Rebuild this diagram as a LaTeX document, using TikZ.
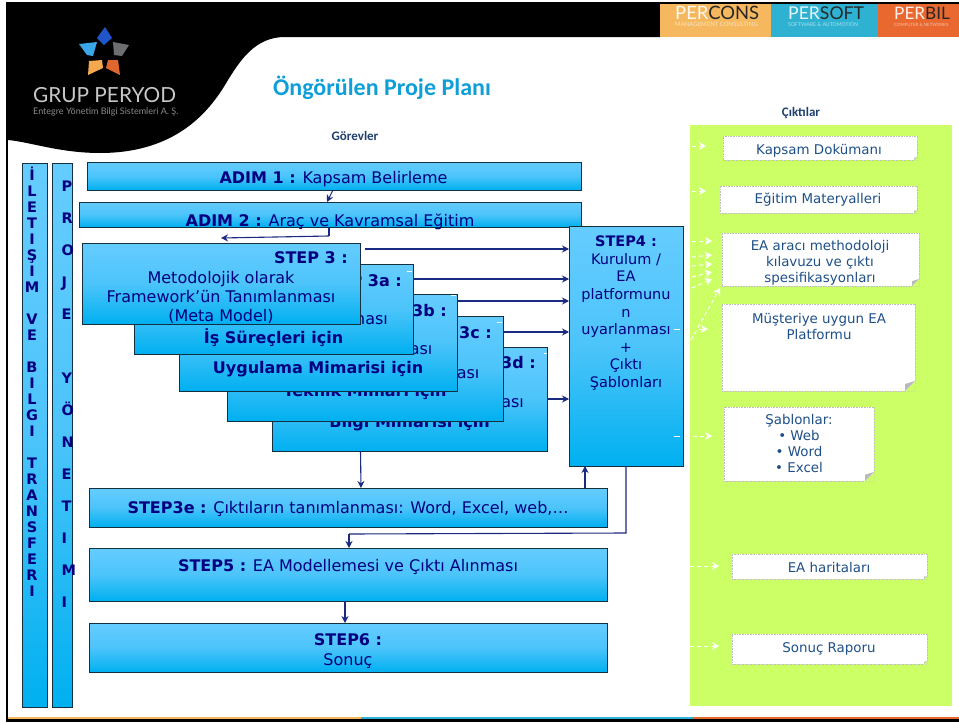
\documentclass[tikz,border=0pt]{standalone}
\usepackage{fontspec}
\setmainfont{DejaVu Sans}
\newfontfamily\calib{Carlito}
\newfontfamily\latof{Lato}
\usetikzlibrary{arrows.meta}
\definecolor{btop}{HTML}{66CCFF}
\definecolor{bmid}{HTML}{4CC4FA}
\definecolor{bbot}{HTML}{00B0F0}
\definecolor{navy}{HTML}{000080}
\definecolor{edgec}{HTML}{12303F}
\definecolor{linkc}{HTML}{1A2A80}
\definecolor{outtxt}{HTML}{1F5088}
\definecolor{lime}{HTML}{CCFF66}
\definecolor{ban1}{HTML}{F5B85F}
\definecolor{ban2}{HTML}{2FB2D2}
\definecolor{ban3}{HTML}{E8682F}
\definecolor{starA}{HTML}{1F55C8}
\definecolor{starB}{HTML}{3AA8E8}
\definecolor{starC}{HTML}{6D6E70}
\definecolor{starD}{HTML}{F5A94F}
\definecolor{starE}{HTML}{E0662F}
\definecolor{titlec}{HTML}{0F9FD8}
\definecolor{headc}{HTML}{1F3F6F}
\tikzset{
  bluebox/.style={draw=edgec,line width=1pt,top color=btop,bottom color=bbot,middle color=bmid,inner sep=0pt,outer sep=0pt},
  whitebox/.style={draw=gray!50,densely dotted,line width=.6pt,fill=white,inner sep=0pt,outer sep=0pt},
  navytext/.style={anchor=base,text=navy,inner sep=0pt,font=\fontsize{16}{18}\selectfont},
  navybold/.style={navytext,font=\fontsize{16}{18}\selectfont\bfseries},
  navyright/.style={navybold,anchor=base east},
  stepfour/.style={anchor=base,text=navy,inner sep=0pt,font=\fontsize{14.5}{18}\selectfont},
  outtext/.style={anchor=base,text=outtxt,inner sep=0pt,font=\fontsize{13.4}{15}\selectfont},
  barletter/.style={anchor=base,text=navy,inner sep=0pt,font=\fontsize{14.5}{16}\selectfont\bfseries},
  link/.style={draw=linkc,line width=1.1pt,-{Stealth[length=7pt,width=7pt]}},
  whitelink/.style={draw=white,line width=1pt,dash pattern=on 4pt off 3pt,-{Stealth[length=7pt,width=8pt,fill=white]}},
  whitedash/.style={draw=white,line width=1pt},
}
\newcommand{\bluerect}[5]{%
  \pgfmathsetmacro\bw{#4-#2}\pgfmathsetmacro\bh{#5-#3}%
  \pgfmathsetmacro\cx{(#2+#4)/2}\pgfmathsetmacro\cy{(#3+#5)/2}%
  \node[bluebox,minimum width=\bw pt,minimum height=\bh pt] (#1) at (\cx,\cy) {};}
\newcommand{\outrect}[6]{%
  \pgfmathsetmacro\bw{#4-#2}\pgfmathsetmacro\bh{#5-#3}%
  \pgfmathsetmacro\cx{(#2+#4)/2}\pgfmathsetmacro\cy{(#3+#5)/2}%
  \node[whitebox,minimum width=\bw pt,minimum height=\bh pt] (#1) at (\cx,\cy) {};
  \fill[lime] (#4+.6,#5+.6) -- (#4+.6,#5-#6) -- (#4-#6,#5+.6) -- cycle;
  \fill[gray!55] (#4,#5-#6) -- (#4-#6,#5-.7*#6) -- (#4-#6,#5) -- cycle;}
\begin{document}
\begin{tikzpicture}[x=1pt,y=-1pt]
\useasboundingbox (0,0) rectangle (959,723);
\fill[white] (0,0) rectangle (959,723);
% header
\fill[black] (6,2) -- (660,2) -- (660,37) -- (285,37)
  .. controls (255,37) and (240,60) .. (225,85)
  .. controls (205,118) and (170,153) .. (100,153)
  .. controls (60,153) and (30,142) .. (8,140) -- (6,140) -- cycle;
\fill[ban1] (660,3) rectangle (771,37);
\fill[ban2] (771,3) rectangle (878,37);
\fill[ban3] (878,3) rectangle (959,37);
\fill[black] (660,2) rectangle (959,3.5);
% frame
\fill[black] (6,2) rectangle (8,722);
\fill[black] (6,719) rectangle (959,722);
\fill[ban1] (8,717) rectangle (361,719);
\fill[ban2] (361,717) rectangle (693,719);
\fill[ban3] (693,717) rectangle (959,719);
% logo
\fill[starA] (105,27) -- (112,38) -- (104,45) -- (97,38) -- cycle;
\fill[starB] (79,44) -- (97,42) -- (93,56) -- (87,55) -- cycle;
\fill[starC] (113,42) -- (129,45) -- (122,56) -- (114,55) -- cycle;
\fill[starD] (89,61) -- (102,60) -- (103,68) -- (88,75) -- cycle;
\fill[starE] (108,60) -- (118,60) -- (120,75) -- (106,68) -- cycle;
\node[anchor=base west,inner sep=0pt,text=white!78!black,font=\latof\fontsize{20.8}{24}\selectfont] (logotext) at (33,102) {GRUP PERYOD};
\node[anchor=base west,inner sep=0pt,text=white!55!black,font=\latof\fontsize{9}{10}\selectfont] (logosub) at (33,114.5) {Entegre Yönetim Bilgi Sistemleri A. Ş.};
% banner text
\node[anchor=base west,inner sep=0pt,font=\latof\fontsize{18.4}{20}\selectfont] (pcons) at (675,19.5) {\textcolor{white!90!ban1}{PER}\textcolor{black!85}{CONS}};
\node[anchor=base west,inner sep=0pt,text=white!60!ban1,font=\latof\fontsize{6}{7}\selectfont] (pconssub) at (675,26) {MANAGEMENT CONSULTING};
\node[anchor=base west,inner sep=0pt,font=\latof\fontsize{17.6}{20}\selectfont] (psoft) at (788,19.5) {\textcolor{white!90!ban2}{PER}\textcolor{black!85}{SOFT}};
\node[anchor=base west,inner sep=0pt,text=white!60!ban2,font=\latof\fontsize{5.2}{6}\selectfont] (psoftsub) at (788,26) {SOFTWARE \& AUTOMOTION};
\node[anchor=base west,inner sep=0pt,font=\latof\fontsize{17.2}{20}\selectfont] (pbil) at (894,19.5) {\textcolor{white!90!ban3}{PER}\textcolor{black!85}{BIL}};
\node[anchor=base west,inner sep=0pt,text=white!60!ban3,font=\latof\fontsize{4.4}{5}\selectfont] (pbilsub) at (894,26) {COMPUTER \& NETWORKS};
% titles
\node[anchor=base west,inner sep=0pt,text=titlec,font=\calib\fontsize{24}{26}\selectfont\bfseries] (title) at (273,95) {Öngörülen Proje Planı};
\node[anchor=base,inner sep=0pt,text=headc,font=\calib\fontsize{13}{14}\selectfont\bfseries] (gorev) at (355,140) {Görevler};
\node[anchor=base,inner sep=0pt,text=headc,font=\calib\fontsize{13}{14}\selectfont\bfseries] (cikti) at (801,116) {Çıktılar};
% green panel
\fill[lime] (690,125) rectangle (952,706);
% side bars
\bluerect{barA}{22}{163}{47}{707}
\bluerect{barB}{52}{163}{72}{707}
\foreach \ch/\n in {İ/0,L/1,E/2,T/3,I/4,Ş/5,I/6,M/7,V/9,E/10,B/12,I/13,L/14,G/15,I/16,T/18,R/19,A/20,N/21,S/22,F/23,E/24,R/25,I/26}
  \node[barletter] (ba\n) at (32,180.5+\n*16) {\ch};
\foreach \ch/\n in {P/0,R/1,O/2,J/3,E/4,Y/6,Ö/7,N/8,E/9,T/10,I/11,M/12,I/13}
  \node[barletter,anchor=base west] (bb\n) at (61.5,191.5+\n*32) {\ch};
% upper steps
\bluerect{adimA}{87}{162}{581}{190}
\node[navytext] (adimAt) at (333.5,183) {\textbf{ADIM 1 :} Kapsam Belirleme};
\bluerect{adimB}{79}{202}{581}{227}
\node[navytext] (adimBt) at (330,226) {\textbf{ADIM 2 :} Araç ve Kavramsal Eğitim};
% stacked steps, back to front
\bluerect{sD}{272}{347}{547}{451}
\node[navyright] (sDa) at (536,368) {STEP 3d :};
\node[navytext] (sDb) at (409.5,387.5) {Metodolojik olarak};
\node[navytext] (sDc) at (409.5,407) {Framework’ün Tanımlanması};
\node[navybold] (sDd) at (409.5,427) {Bilgi Mimarisi için};
\bluerect{sC}{227}{316}{503}{421}
\node[navyright] (sCa) at (492,338) {STEP 3c :};
\node[navytext] (sCb) at (365,358.5) {Metodolojik olarak};
\node[navytext] (sCc) at (365,378) {Framework’ün Tanımlanması};
\node[navybold] (sCd) at (365,396) {Teknik Mimari için};
\bluerect{sB}{179}{294}{457}{391}
\node[navyright] (sBa) at (447,316) {STEP 3b :};
\node[navytext] (sBb) at (318,334.5) {Metodolojik olarak};
\node[navytext] (sBc) at (318,354) {Framework’ün Tanımlanması};
\node[navybold] (sBd) at (318,373) {Uygulama Mimarisi için};
\bluerect{sA}{134}{264}{413}{354}
\node[navyright] (sAa) at (402,286) {STEP 3a :};
\node[navytext] (sAb) at (273.5,304.5) {Metodolojik olarak};
\node[navytext] (sAc) at (273.5,324) {Framework’ün Tanımlanması};
\node[navybold] (sAd) at (273.5,343) {İş Süreçleri için};
\bluerect{sT}{82}{243}{360}{324}
\node[navyright] (sTa) at (348,263) {STEP 3 :};
\node[navytext] (sTb) at (221,283) {Metodolojik olarak};
\node[navytext] (sTc) at (221,302) {Framework’ün Tanımlanması};
\node[navytext] (sTd) at (221,321) {(Meta Model)};
% STEP4
\bluerect{sF}{569}{226}{683}{466}
\node[stepfour,font=\fontsize{14.5}{18}\selectfont\bfseries] (f1) at (626,246.5) {STEP4 :};
\foreach \txt/\y [count=\i] in {{Kurulum /}/264,EA/281.5,platformunu/299.5,n/317.5,uyarlanması/334.5,+/352.5,Çıktı/369.5,Şablonları/387.5}
  \node[stepfour] (f\i x) at (626,\y) {\txt};
% lower steps
\bluerect{sE}{89}{488}{607}{527}
\node[navytext] (sEt) at (348,513) {\textbf{STEP3e :} Çıktıların tanımlanması: Word, Excel, web,…};
\bluerect{sG}{89}{548}{607}{601}
\node[navytext] (sGt) at (348,571) {\textbf{STEP5 :} EA Modellemesi ve Çıktı Alınması};
\bluerect{sH}{89}{623}{607}{672}
\node[navybold] (sHa) at (348,645) {STEP6 :};
\node[navytext] (sHb) at (348,665) {Sonuç};
% connectors
\draw[link] ([xshift=-1pt]adimA.south) -- ([xshift=-3pt]adimB.north);
\coordinate (adimBturn) at ([xshift=-1pt,yshift=-9pt]adimB.south);
\draw[draw=linkc,line width=1.1pt] ([xshift=-1pt]adimB.south) -- (adimBturn);
\coordinate (sTin) at ([yshift=5pt]sT.north);
\draw[link] (adimBturn) -- (sTin);
\coordinate (sTout) at ([shift={(5pt,-6pt)}]sT.north east);
\draw[link] (sTout) -- (sTout -| sF.west);
\coordinate (sAout) at ([yshift=-15pt]sA.north east);
\draw[link] (sAout) -- (sAout -| sF.west);
\coordinate (sBout) at ([yshift=-7pt]sB.north east);
\draw[link] (sBout) -- (sBout -| sF.west);
\coordinate (sCout) at ([yshift=-16pt]sC.north east);
\draw[link] (sCout) -- (sCout -| sF.west);
\coordinate (sDout) at ([yshift=-52pt]sD.north east);
\draw[link] (sDout) -- (sDout -| sF.west);
\draw[link] ([xshift=-49pt]sD.south) -- ([xshift=13pt]sE.north);
\draw[link] ([xshift=237pt]sE.north) -- ([xshift=-41pt]sF.south);
\coordinate (fturn) at ([yshift=-67pt]sF.south);
\coordinate (gturn) at ([yshift=14pt,xshift=1pt]sG.north);
\draw[draw=linkc,line width=1.1pt] (sF.south) -- (fturn) -- (gturn);
\draw[link] (gturn) -- ([xshift=1pt]sG.north);
\draw[link] ([xshift=-3pt]sG.south) -- ([xshift=-3pt]sH.north);
% outputs
\outrect{oA}{723}{136}{917}{160}{3}
\node[outtext] (oAt) at (819,154) {Kapsam Dokümanı};
\outrect{oB}{720}{186}{917}{213}{3}
\node[outtext] (oBt) at (818,203) {Eğitim Materyalleri};
\outrect{oC}{722}{233}{919}{286}{7}
\node[outtext] (oC1) at (820,250.5) {EA aracı methodoloji};
\node[outtext] (oC2) at (820,266.5) {kılavuzu ve çıktı};
\node[outtext] (oC3) at (820,282.5) {spesifikasyonları};
\outrect{oD}{722}{304}{915}{391}{10}
\node[outtext] (oD1) at (819,323) {Müşteriye uygun EA};
\node[outtext] (oD2) at (819,339) {Platformu};
\outrect{oE}{724}{407}{874}{481}{9}
\node[outtext] (oE1) at (799,424) {Şablonlar:};
\node[outtext] (oE2) at (799,440) {• Web};
\node[outtext] (oE3) at (799,456) {• Word};
\node[outtext] (oE4) at (799,472) {• Excel};
\outrect{oF}{732}{554}{927}{579}{3}
\node[outtext] (oFt) at (829,572.5) {EA haritaları};
\outrect{oG}{732}{634}{927}{664}{3}
\node[outtext] (oGt) at (829,652.5) {Sonuç Raporu};
% white arrows
\foreach \n/\xa/\ya/\xb/\yb in {a/692/146/706/146,b/692/191/706/191,c/692/241/712/241,d/692/257/712/255,e/692/266/712/264,f/692/277/712/272,g/692/288/712/279,h/691/340/720/288,i/699/329/708/329,j/693/436/712/436,k/690/566/719/566,l/690/646/719/646}{
  \coordinate (ws\n) at (\xa,\ya);
  \coordinate (we\n) at (\xb,\yb);
  \draw[whitelink] (ws\n) -- (we\n);
}
\draw[whitedash] ([yshift=-103pt,xshift=-9pt]sF.north east) -- ([yshift=-103pt,xshift=-3pt]sF.north east);
\draw[whitedash] ([yshift=-210pt,xshift=-9pt]sF.north east) -- ([yshift=-210pt,xshift=-3pt]sF.north east);
\draw[whitedash] ([yshift=-7pt,xshift=-6pt]sA.north east) -- ([yshift=-7pt,xshift=-1pt]sA.north east);
\draw[whitedash] ([yshift=-1pt,xshift=-6pt]sB.north east) -- ([yshift=-1pt,xshift=-1pt]sB.north east);
\draw[whitedash] ([yshift=-6pt,xshift=-6pt]sC.north east) -- ([yshift=-6pt,xshift=-1pt]sC.north east);
\draw[whitedash] ([yshift=-6pt,xshift=-3pt]sD.north east) -- ([yshift=-6pt,xshift=-.5pt]sD.north east);
\end{tikzpicture}
\end{document}
